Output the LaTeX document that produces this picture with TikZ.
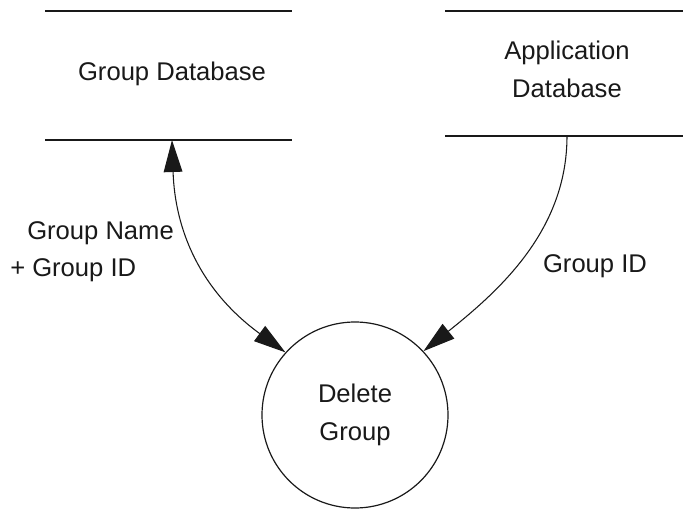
\documentclass[tikz,border=0pt]{standalone}
\usepackage{fontspec}
\setmainfont{Liberation Sans}
\usetikzlibrary{arrows.meta}
\definecolor{figK}{RGB}{25,25,25}

\begin{document}
\begin{tikzpicture}[x=0.75pt,y=-0.75pt,
  every node/.style={font=\fontsize{19.2}{28.5}\selectfont,text=figK,inner sep=0pt},
  storeline/.style={line width=1.1pt,figK},
  flow/.style={line width=0.8pt,figK},
  >={Triangle[length=24pt,width=14pt]}]
\useasboundingbox (0,0) rectangle (683,511);
% data store: group database
\coordinate (gtl) at (45,11);  \coordinate (gtr) at (292,11);
\coordinate (gbl) at (45,140); \coordinate (gbr) at (292,140);
\draw[storeline] (gtl)--(gtr); \draw[storeline] (gbl)--(gbr);
\node (gdb) at (172,74) {Group Database};
\coordinate (gdbport) at (172,140);
% data store: application database
\coordinate (atl) at (445,11);  \coordinate (atr) at (683,11);
\coordinate (abl) at (445,136); \coordinate (abr) at (683,136);
\draw[storeline] (atl)--(atr); \draw[storeline] (abl)--(abr);
\node[align=center] (adb) at (567,69) {Application\\Database};
\coordinate (adbport) at (567,136);
% the process
\node[circle,draw=figK,line width=0.9pt,minimum size=139.5pt,align=center] (del) at (355,415) {Delete\\Group};
% flows
\draw[flow,<->] (gdbport) .. controls (175,230) and (200,290) .. (del.138);
\draw[flow,->] (adbport) .. controls (567,230) and (500,290) .. (del.43);
\node[anchor=west] (lblname) at (27,233) {Group Name};
\node[anchor=west] (lblgid) at (10,270) {+ Group ID};
\node (lblaid) at (595,266) {Group ID};
\end{tikzpicture}
\end{document}
